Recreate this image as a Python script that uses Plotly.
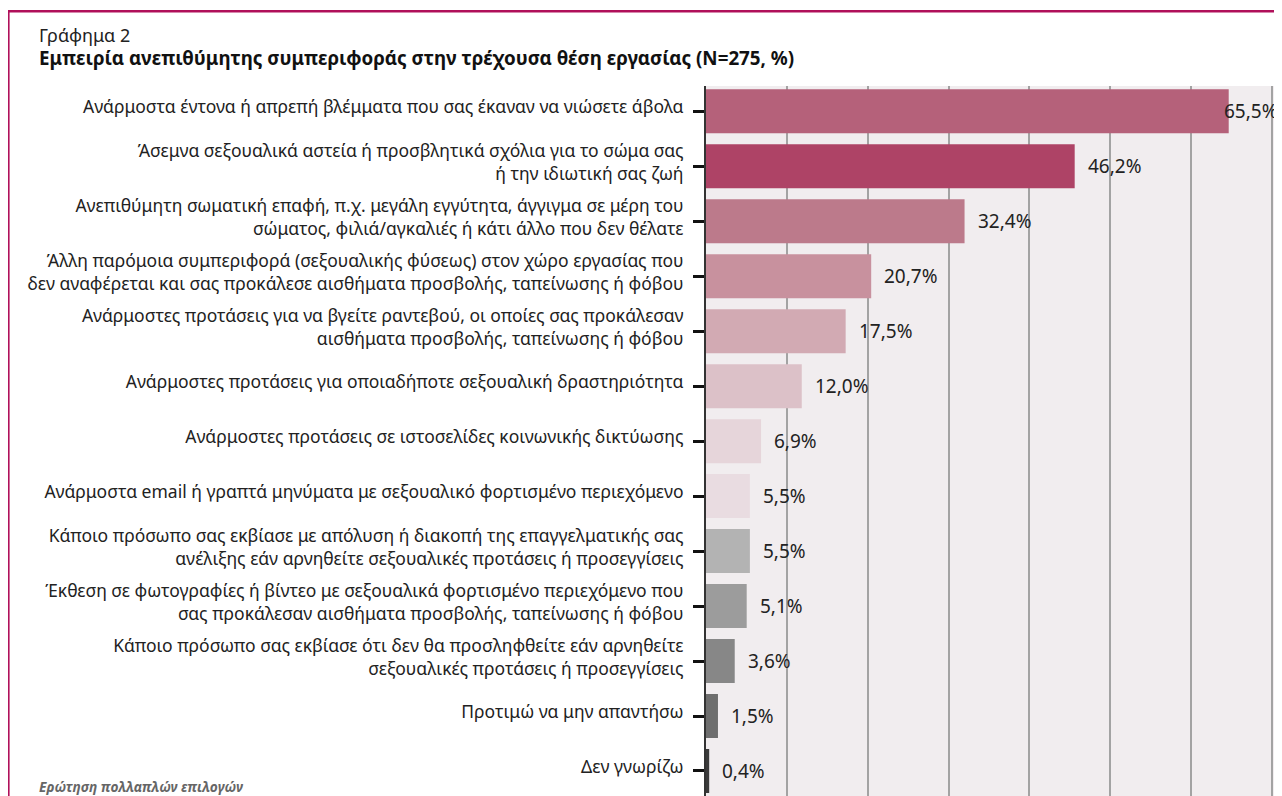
import plotly.graph_objects as go

categories = [
    "Ανάρμοστα έντονα ή απρεπή βλέμματα που σας έκαναν να νιώσετε άβολα",
    "Άσεμνα σεξουαλικά αστεία ή προσβλητικά σχόλια για το σώμα σας<br>ή την ιδιωτική σας ζωή",
    "Ανεπιθύμητη σωματική επαφή, π.χ. μεγάλη εγγύτητα, άγγιγμα σε μέρη του<br>σώματος, φιλιά/αγκαλιές ή κάτι άλλο που δεν θέλατε",
    "Άλλη παρόμοια συμπεριφορά (σεξουαλικής φύσεως) στον χώρο εργασίας που<br>δεν αναφέρεται και σας προκάλεσε αισθήματα προσβολής, ταπείνωσης ή φόβου",
    "Ανάρμοστες προτάσεις για να βγείτε ραντεβού, οι οποίες σας προκάλεσαν<br>αισθήματα προσβολής, ταπείνωσης ή φόβου",
    "Ανάρμοστες προτάσεις για οποιαδήποτε σεξουαλική δραστηριότητα",
    "Ανάρμοστες προτάσεις σε ιστοσελίδες κοινωνικής δικτύωσης",
    "Ανάρμοστα email ή γραπτά μηνύματα με σεξουαλικό φορτισμένο περιεχόμενο",
    "Κάποιο πρόσωπο σας εκβίασε με απόλυση ή διακοπή της επαγγελματικής σας<br>ανέλιξης εάν αρνηθείτε σεξουαλικές προτάσεις ή προσεγγίσεις",
    "Έκθεση σε φωτογραφίες ή βίντεο με σεξουαλικά φορτισμένο περιεχόμενο που<br>σας προκάλεσαν αισθήματα προσβολής, ταπείνωσης ή φόβου",
    "Κάποιο πρόσωπο σας εκβίασε ότι δεν θα προσληφθείτε εάν αρνηθείτε<br>σεξουαλικές προτάσεις ή προσεγγίσεις",
    "Προτιμώ να μην απαντήσω",
    "Δεν γνωρίζω",
]
values = [65.5, 46.2, 32.4, 20.7, 17.5, 12.0, 6.9, 5.5, 5.5, 5.1, 3.6, 1.5, 0.4]
colors = ["#B5617A", "#AE4366", "#BC7A8B", "#C8919E", "#D2AAB3", "#DCC1C8",
          "#E6D5DA", "#E9DCE1", "#B3B3B3", "#9C9C9C", "#878787", "#6E6E6E", "#3A3A3A"]
labels = [f"{v:.1f}".replace(".", ",") + "%" for v in values]

title_small = "Γράφημα 2"
title_main = "Εμπειρία ανεπιθύμητης συμπεριφοράς στην τρέχουσα θέση εργασίας (N=275, %)"
footnote = "Ερώτηση πολλαπλών επιλογών"

FONT = "Noto Sans"
OFF = 8  # page body margin
W, H = 1282 - OFF, 796 - OFF
L, R, T, B = 706 - OFF, 7, 86 - OFF, 0
XMAX = 71.3
pw, ph = W - L - R, H - T - B


def px(x):  # page pixel -> paper x
    return (x - OFF - L) / pw


def py(y):  # page pixel -> paper y
    return (H - B - (y - OFF)) / ph


n = len(values)
fig = go.Figure()
fig.add_trace(go.Bar(
    x=values, y=list(range(n)), orientation="h",
    marker=dict(color=colors, line=dict(width=0)),
    width=0.8, hoverinfo="skip", showlegend=False,
))

annotations = []
for i, (v, t) in enumerate(zip(values, labels)):
    annotations.append(dict(
        x=min(v + 1.4, XMAX - 6.6), y=i, xref="x", yref="y", text=t,
        xanchor="left", yanchor="middle", showarrow=False,
        font=dict(family=FONT, size=19, color="#222222"),
    ))

annotations += [
    dict(text=title_small, xref="paper", yref="paper", x=px(37), y=py(35),
         xanchor="left", yanchor="middle", showarrow=False,
         font=dict(family=FONT, size=18, color="#222222")),
    dict(text="<b>" + title_main + "</b>", xref="paper", yref="paper", x=px(37), y=py(58),
         xanchor="left", yanchor="middle", showarrow=False,
         font=dict(family=FONT, size=18.8, color="#111111")),
    dict(text="<b><i>" + footnote + "</i></b>", xref="paper", yref="paper", x=px(37), y=py(786),
         xanchor="left", yanchor="middle", showarrow=False,
         font=dict(family=FONT, size=13.7, color="#666666")),
]

fig.update_layout(
    width=W, height=H,
    margin=dict(l=L, r=R, t=T, b=B, autoexpand=False),
    paper_bgcolor="white", plot_bgcolor="#F1EDEF",
    font=dict(family=FONT, size=17, color="#222222"),
    bargap=0.2,
    xaxis=dict(range=[0, XMAX], showticklabels=False, dtick=10.13, tick0=0,
               showgrid=True, gridcolor="#A3A3A3", gridwidth=1.5, zeroline=False,
               showline=False, fixedrange=True),
    yaxis=dict(range=[12.455, -0.46], tickmode="array", tickvals=list(range(n)),
               ticktext=categories, ticks="outside", ticklen=11, tickwidth=2.5,
               tickcolor="#111111", showline=True, linecolor="#333333", linewidth=2,
               showgrid=False, zeroline=False, automargin=False, ticklabelstandoff=6,
               ticklabelshift=4,
               tickfont=dict(family=FONT, size=17.5, color="#222222"), fixedrange=True),
    shapes=[
        dict(type="line", xref="paper", yref="paper", x0=px(7), x1=px(1290),
             y0=py(11.3), y1=py(11.3), line=dict(color="#B0105A", width=2.5)),
        dict(type="line", xref="paper", yref="paper", x0=px(8.6), x1=px(8.6),
             y0=py(10), y1=py(805), line=dict(color="#B0105A", width=2)),
    ],
    annotations=annotations,
)

fig.write_html("out.html")
